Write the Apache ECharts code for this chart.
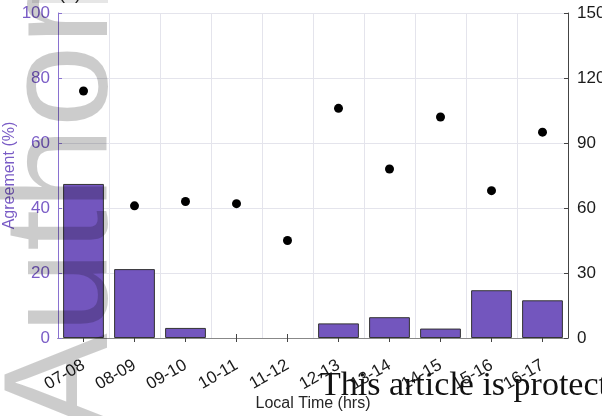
<!DOCTYPE html>
<html>
<head>
<meta charset="utf-8">
<script src="https://cdn.jsdelivr.net/npm/echarts@6/dist/echarts.min.js"></script>
<style>
  html, body { margin: 0; padding: 0; background: #fff; }
  #chart { width: 602px; height: 416px; }
</style>
</head>
<body>
<div id="chart"></div>
<script>
// Hourly windows (local time)
const categories = ['07-08', '08-09', '09-10', '10-11', '11-12', '12-13', '13-14', '14-15', '15-16', '16-17'];
// Agreement per window (%), left axis
const agreement = [47.4, 21.2, 3.1, 0, 0, 4.5, 6.4, 2.9, 14.7, 11.6];
// Sample count per window, right axis
const counts = [114, 61, 63, 62, 45, 106, 78, 102, 68, 95];
// Axis tick values
const leftTicks = [0, 20, 40, 60, 80, 100];
const rightTicks = [0, 30, 60, 90, 120, 150];

const purple = '#7356be';
const purpleText = '#7a5cc6';
const font = 'Liberation Sans, Arial, sans-serif';

// empty windows get no outline so nothing shows on the baseline
const barData = agreement.map(v => (v === 0 ? { value: v, itemStyle: { borderWidth: 0 } } : v));

const chart = echarts.init(document.getElementById('chart'), null, { renderer: 'canvas' });

chart.setOption({
  animation: false,
  backgroundColor: '#ffffff',
  grid: { left: 58, right: 34, top: 13, bottom: 78, containLabel: false, outerBoundsMode: 'none' },
  xAxis: [
    {
      type: 'category',
      data: categories,
      position: 'bottom',
      name: 'Local Time (hrs)',
      nameLocation: 'middle',
      nameGap: 58,
      nameMoveOverlap: false,
      nameTextStyle: { fontFamily: font, fontSize: 16, color: '#262626' },
      axisLine: { show: true, lineStyle: { color: '#555', width: 1 } },
      axisTick: { show: true, inside: true, alignWithLabel: true, length: 4, lineStyle: { color: '#444' } },
      axisLabel: { rotate: 30, fontFamily: font, fontSize: 17, color: '#1a1a1a', margin: 26, interval: 0 },
      splitLine: { show: true, interval: 0, lineStyle: { color: '#e4e4ec', width: 1 } }
    },
    {
      type: 'category',
      data: categories,
      position: 'top',
      axisLine: { show: true, lineStyle: { color: '#888', width: 1 } },
      axisTick: { show: true, inside: true, alignWithLabel: true, length: 4, lineStyle: { color: '#444' } },
      axisLabel: { show: false },
      splitLine: { show: false }
    }
  ],
  yAxis: [
    {
      type: 'value',
      min: leftTicks[0],
      max: leftTicks[leftTicks.length - 1],
      interval: leftTicks[1] - leftTicks[0],
      position: 'left',
      name: 'Agreement (%)',
      nameLocation: 'middle',
      nameGap: 40,
      nameMoveOverlap: false,
      nameTextStyle: { fontFamily: font, fontSize: 16, color: purpleText },
      axisLine: { show: true, lineStyle: { color: '#8a72d0', width: 1 } },
      axisTick: { show: true, inside: true, length: 4, lineStyle: { color: '#8a72d0' } },
      axisLabel: { fontFamily: font, fontSize: 17, color: purpleText, margin: 8 },
      splitLine: { show: true, lineStyle: { color: '#e4e4ec', width: 1 } }
    },
    {
      type: 'value',
      min: rightTicks[0],
      max: rightTicks[rightTicks.length - 1],
      interval: rightTicks[1] - rightTicks[0],
      position: 'right',
      axisLine: { show: true, lineStyle: { color: '#444', width: 1 } },
      axisTick: { show: true, inside: true, length: 4, lineStyle: { color: '#444' } },
      axisLabel: { fontFamily: font, fontSize: 17, color: '#1a1a1a', margin: 9 },
      splitLine: { show: false }
    }
  ],
  series: [
    {
      type: 'bar',
      data: barData,
      xAxisIndex: 0,
      yAxisIndex: 0,
      barCategoryGap: '20%',
      itemStyle: { color: purple, borderColor: '#333', borderWidth: 1 }
    },
    {
      type: 'scatter',
      data: counts,
      xAxisIndex: 0,
      yAxisIndex: 1,
      symbol: 'circle',
      symbolSize: 9,
      itemStyle: { color: '#000', opacity: 1 }
    }
  ],
  graphic: [
    {
      type: 'rect',
      z: 50,
      shape: { x: 32, y: 0, width: 76, height: 3 },
      style: { fill: '#e6e6e6' }
    },
    {
      type: 'text',
      z: 51,
      x: 70,
      y: 3,
      style: { text: '(a)', font: '18px ' + font, fill: '#222', textAlign: 'center', textVerticalAlign: 'bottom' }
    },
    {
      // faint vertical watermark, darkens whatever lies beneath it
      type: 'text',
      z: 100,
      x: 140,
      y: 432,
      rotation: Math.PI / 2,
      silent: true,
      style: {
        text: 'Author',
        font: '148px ' + font,
        fill: '#000',
        opacity: 0.2,
        textAlign: 'left',
        textVerticalAlign: 'bottom'
      }
    },
    {
      type: 'text',
      z: 101,
      x: 320,
      y: 403,
      silent: true,
      style: {
        text: 'This article is protected by copyright',
        font: '34px Liberation Serif, DejaVu Serif, serif',
        fill: '#111',
        textAlign: 'left',
        textVerticalAlign: 'bottom'
      }
    }
  ]
});
</script>
</body>
</html>
